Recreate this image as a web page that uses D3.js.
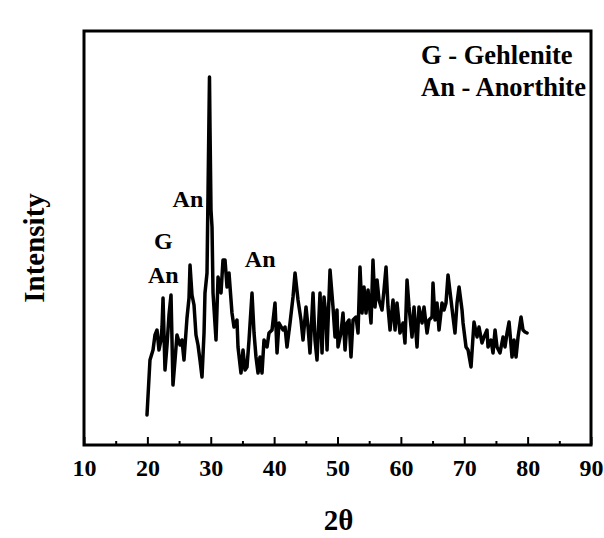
<!DOCTYPE html>
<html>
<head>
<meta charset="utf-8">
<script src="https://cdn.jsdelivr.net/npm/d3@7"></script>
<style>
  html, body { margin: 0; padding: 0; background: #fff; }
  svg text { font-family: "Liberation Serif", "Times New Roman", serif; font-weight: bold; fill: #000; }
</style>
</head>
<body>
<svg id="chart" width="604" height="538"></svg>
<script>
// XRD pattern: 2θ (degrees) and intensity (arbitrary units)
const twoTheta = [
  19.94, 20.41, 20.89, 21.20, 21.52, 21.83, 22.15, 22.31, 22.47, 22.78,
  23.10, 23.41, 23.73, 24.04, 24.36, 24.67, 25.15, 25.46, 25.78, 26.25,
  26.57, 26.73, 27.04, 27.36, 27.67, 27.99, 28.30, 28.62, 28.94, 29.09,
  29.41, 29.57, 29.70, 29.80, 29.88, 30.04, 30.20, 30.36, 30.83, 31.15,
  31.62, 31.93, 32.25, 32.57, 32.88, 33.35, 33.67, 34.14, 34.30, 34.77,
  35.09, 35.41, 35.72, 36.04, 36.51, 36.83, 37.14, 37.46, 37.77, 38.09,
  38.40, 38.88, 39.19, 39.67, 40.14, 40.46, 40.77, 41.40, 41.72, 42.03,
  42.51, 42.98, 43.30, 43.77, 44.24, 44.56, 45.03, 45.35, 45.66, 46.14,
  46.45, 46.77, 47.24, 47.56, 47.87, 48.19, 48.35, 48.82, 49.29, 49.61,
  49.92, 50.08, 50.55, 50.87, 51.19, 51.50, 51.82, 52.13, 52.45, 52.92,
  53.24, 53.55, 53.87, 54.18, 54.50, 54.82, 55.29, 55.60, 55.92, 56.24,
  56.55, 57.02, 57.34, 57.66, 57.97, 58.29, 58.76, 59.08, 59.39, 59.86,
  60.34, 60.65, 60.97, 61.29, 61.76, 62.07, 62.55, 62.86, 63.34, 63.65,
  64.13, 64.44, 64.91, 65.07, 65.39, 65.70, 66.02, 66.49, 66.81, 67.12,
  67.44, 67.91, 68.23, 68.54, 68.86, 69.18, 69.65, 69.81, 70.28, 70.60,
  71.07, 71.38, 71.54, 72.02, 72.33, 72.80, 73.12, 73.59, 73.75, 74.22,
  74.54, 74.86, 75.17, 75.64, 76.12, 76.43, 76.75, 77.07, 77.54, 77.85,
  78.17, 78.49, 78.96, 79.27, 79.59, 79.91
];
const intensity = [
  60, 170, 190, 220, 230, 190, 210, 236, 294, 150,
  200, 260, 300, 120, 170, 220, 200, 210, 170, 254,
  294, 360, 300, 280, 220, 200, 170, 136, 224, 304,
  344, 504, 636, 736, 636, 470, 436, 304, 210, 336,
  304, 370, 370, 316, 344, 264, 236, 250, 196, 144,
  190, 150, 156, 210, 304, 224, 176, 144, 176, 144,
  210, 196, 224, 230, 284, 184, 244, 230, 236, 196,
  244, 296, 344, 290, 250, 210, 276, 236, 184, 304,
  210, 170, 304, 184, 296, 256, 190, 350, 276, 216,
  270, 196, 224, 264, 190, 244, 250, 176, 250, 256,
  224, 356, 264, 316, 264, 310, 244, 370, 276, 330,
  290, 270, 310, 356, 276, 230, 290, 230, 284, 224,
  244, 204, 330, 276, 216, 276, 196, 276, 244, 276,
  224, 250, 256, 324, 250, 284, 230, 284, 270, 284,
  340, 290, 256, 224, 284, 316, 270, 244, 196, 190,
  156, 216, 246, 216, 236, 204, 216, 230, 196, 210,
  184, 230, 196, 184, 216, 196, 224, 246, 176, 210,
  176, 216, 256, 230, 226, 224
];

// Axis ticks
const xMajorTicks = [10, 20, 30, 40, 50, 60, 70, 80, 90];
const xMinorTicks = [15, 25, 35, 45, 55, 65, 75, 85];

// Phase labels placed at peaks
const peakLabels = ["An", "G", "An", "An"];
const peakTheta = [26.4, 22.5, 22.5, 37.8];
const peakLabelIntensity = [476, 392, 324, 356];

const legendLines = ["G - Gehlenite", "An - Anorthite"];

const svg = d3.select("#chart");
const margin = { left: 84, right: 13, top: 31, bottom: 93 };
const W = 604, H = 538;

const x = d3.scaleLinear().domain([10, 90]).range([margin.left, W - margin.right]);
const y = d3.scaleLinear().domain([0, 828]).range([H - margin.bottom, margin.top]);

const data = twoTheta.map((t, i) => ({ t, v: intensity[i] }));

// Pattern trace
svg.append("path")
  .datum(data)
  .attr("fill", "none")
  .attr("stroke", "#000")
  .attr("stroke-width", 3.5)
  .attr("stroke-linejoin", "round")
  .attr("stroke-linecap", "round")
  .attr("d", d3.line().x(d => x(d.t)).y(d => y(d.v)));

// Bottom axis with inward ticks
const axisY = y(0);
const xAxis = svg.append("g").attr("transform", `translate(0,${axisY})`);
xAxis.call(d3.axisBottom(x).tickValues(xMajorTicks).tickSize(-8).tickFormat(d3.format("d")))
  .call(g => g.select(".domain").remove())
  .call(g => g.selectAll(".tick line").attr("stroke", "#000").attr("stroke-width", 2))
  .call(g => g.selectAll(".tick text")
    .attr("y", 14)
    .attr("dy", "0.71em")
    .style("font-size", "24px")
    .style("font-family", "'Liberation Serif', 'Times New Roman', serif")
    .style("font-weight", "bold")
    .attr("fill", "#000"));

svg.append("g").attr("transform", `translate(0,${axisY})`)
  .call(d3.axisBottom(x).tickValues(xMinorTicks).tickSize(-4).tickFormat(""))
  .call(g => g.select(".domain").remove())
  .call(g => g.selectAll(".tick line").attr("stroke", "#000").attr("stroke-width", 2));

// Frame
svg.append("rect")
  .attr("x", x(10))
  .attr("y", y(828))
  .attr("width", x(90) - x(10))
  .attr("height", y(0) - y(828))
  .attr("fill", "none")
  .attr("stroke", "#000")
  .attr("stroke-width", 3);

// Axis titles
svg.append("text")
  .attr("x", (x(10) + x(90)) / 2 + 1)
  .attr("y", 530)
  .attr("text-anchor", "middle")
  .style("font-size", "29px")
  .text("2θ");

svg.append("text")
  .attr("transform", `translate(44,${(y(0) + y(828)) / 2 + 10}) rotate(-90)`)
  .attr("text-anchor", "middle")
  .style("font-size", "29px")
  .text("Intensity");

// Peak annotations
svg.selectAll(".peak")
  .data(peakLabels)
  .join("text")
  .attr("class", "peak")
  .attr("x", (d, i) => x(peakTheta[i]))
  .attr("y", (d, i) => y(peakLabelIntensity[i]))
  .attr("text-anchor", "middle")
  .style("font-size", "24px")
  .text(d => d);

// Phase key
svg.selectAll(".key")
  .data(legendLines)
  .join("text")
  .attr("class", "key")
  .attr("x", 421)
  .attr("y", (d, i) => 64 + i * 32)
  .style("font-size", "26.5px")
  .text(d => d);
</script>
</body>
</html>
